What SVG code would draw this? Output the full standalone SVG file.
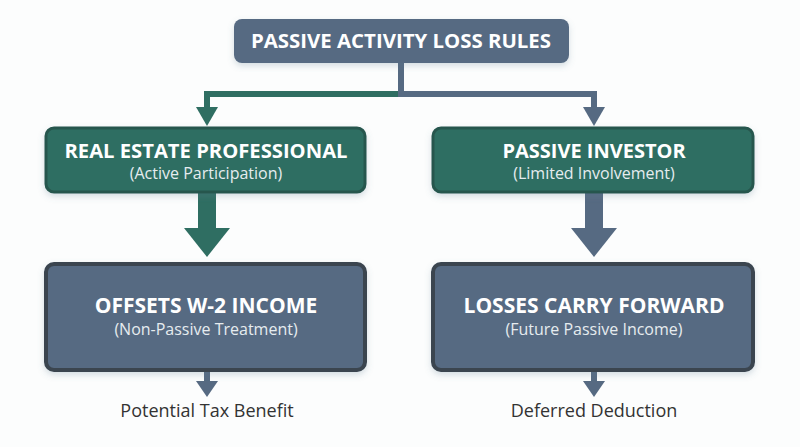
<svg xmlns="http://www.w3.org/2000/svg" width="800" height="447" viewBox="0 0 800 447">
<style>
.t{font-family:"Open Sans","Liberation Sans",sans-serif;font-weight:700;fill:#fff;text-anchor:middle}
.s{font-family:"Open Sans","Liberation Sans",sans-serif;fill:#e6ecef;text-anchor:middle;font-size:16px}
.l{font-family:"Open Sans","Liberation Sans",sans-serif;fill:#333;text-anchor:middle;font-size:18px}
.g{fill:#2f6e62;stroke:#27574e;stroke-width:3}
.b{fill:#566a82;stroke:#3a4550;stroke-width:4}
</style>
<defs><filter id="sh" x="-10%" y="-10%" width="120%" height="130%"><feDropShadow dx="0" dy="3" stdDeviation="3" flood-color="#5a7a90" flood-opacity="0.25"/></filter></defs>
<rect width="800" height="447" fill="#fcfdfd"/>
<g id="connectors">
<path d="M401 63V94H207V112" fill="none" stroke="#2f6e62" stroke-width="6"/>
<path d="M401 63V94H594V112" fill="none" stroke="#566a82" stroke-width="6"/>
<path d="M401 63V94" stroke="#566a82" stroke-width="6"/>
<polygon points="196,107 218,107 207,126" fill="#2f6e62"/>
<polygon points="583,107 605,107 594,126" fill="#566a82"/>
<rect x="198" y="192" width="18" height="37" fill="#2f6e62"/>
<polygon points="184,228 230,228 207,257" fill="#2f6e62"/>
<rect x="585" y="192" width="18" height="37" fill="#566a82"/>
<polygon points="571,228 617,228 594,257" fill="#566a82"/>
<rect x="204" y="370" width="6" height="14" fill="#566a82"/>
<polygon points="196,381 218,381 207,397" fill="#566a82"/>
<rect x="591" y="370" width="6" height="14" fill="#566a82"/>
<polygon points="583,381 605,381 594,397" fill="#566a82"/>
</g>
<g id="root"><rect x="234" y="19" width="335" height="44" rx="8" fill="#566a82" filter="url(#sh)"/><text class="t" x="401" y="48" font-size="20" textLength="300" lengthAdjust="spacingAndGlyphs">PASSIVE ACTIVITY LOSS RULES</text></g>
<g id="rep"><rect class="g" x="46" y="128" width="319" height="64" rx="8" filter="url(#sh)"/><text class="t" x="206" y="158" font-size="20" textLength="283" lengthAdjust="spacingAndGlyphs">REAL ESTATE PROFESSIONAL</text><text class="s" x="206" y="179">(Active Participation)</text></g>
<g id="pi"><rect class="g" x="433" y="128" width="320" height="64" rx="8" filter="url(#sh)"/><text class="t" x="594" y="158" font-size="20">PASSIVE INVESTOR</text><text class="s" x="594" y="179">(Limited Involvement)</text></g>
<g id="off"><rect class="b" x="46" y="264" width="319" height="106" rx="8" filter="url(#sh)"/><text class="t" x="206" y="313" font-size="21">OFFSETS W-2 INCOME</text><text class="s" x="206" y="335">(Non-Passive Treatment)</text></g>
<g id="lcf"><rect class="b" x="433" y="264" width="320" height="106" rx="8" filter="url(#sh)"/><text class="t" x="594" y="313" font-size="21">LOSSES CARRY FORWARD</text><text class="s" x="594" y="335">(Future Passive Income)</text></g>
<g id="ptb"><text class="l" x="207" y="417">Potential Tax Benefit</text></g>
<g id="dd"><text class="l" x="594" y="417">Deferred Deduction</text></g>
</svg>
